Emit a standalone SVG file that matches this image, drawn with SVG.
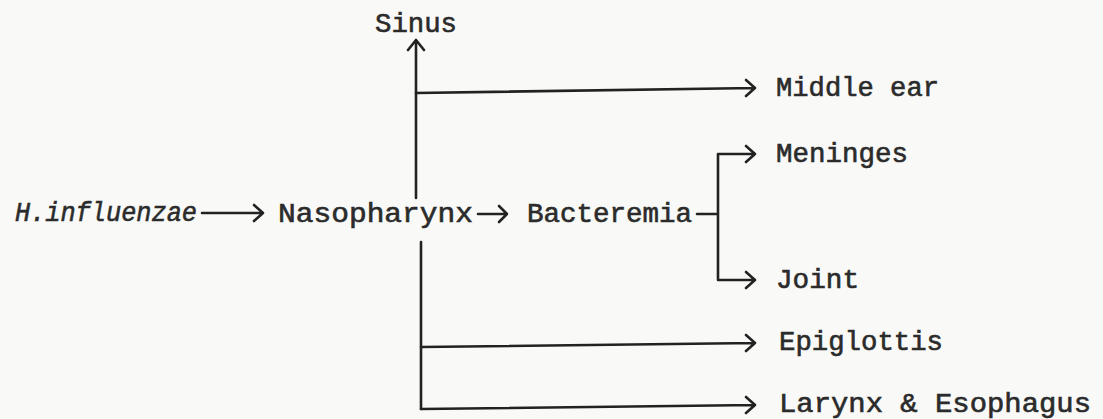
<svg xmlns="http://www.w3.org/2000/svg" width="1103" height="419" viewBox="0 0 1103 419">
<style>
.t{font-family:"Liberation Mono","DejaVu Sans Mono",monospace;font-size:27px;fill:#2b2b2b;stroke:#2b2b2b;stroke-width:0.6px;}
.i{font-style:italic;}
.c{fill:none;stroke:#222;stroke-width:2.6;stroke-linecap:round;stroke-linejoin:round;}
</style>
<rect width="1103" height="419" fill="#f9f9f7"/>
<g id="connectors">
  <path class="c" d="M202 213 H263 M254 205 L263 213 L254 221"/>
  <path class="c" d="M478 214 H507 M499 206 L507 214 L499 222"/>
  <path class="c" d="M416 198 V41 M408 50 L416 40 L424 50"/>
  <path class="c" d="M416 93 L755 88 M746 80 L755 88 L746 96"/>
  <path class="c" d="M697 214 H718 M718 154 V280 M718 154 H755 M746 146 L755 154 L746 162 M718 280 H755 M746 272 L755 280 L746 288"/>
  <path class="c" d="M421 242 V409"/>
  <path class="c" d="M421 347 L755 343 M746 335 L755 343 L746 351"/>
  <path class="c" d="M421 409 L755 405 M746 397 L755 405 L746 413"/>
</g>
<g id="n-hinfluenzae"><text class="t i" x="15" y="221" textLength="182" lengthAdjust="spacingAndGlyphs">H.influenzae</text></g>
<g id="n-nasopharynx"><text class="t" x="278" y="222" textLength="195" lengthAdjust="spacingAndGlyphs">Nasopharynx</text></g>
<g id="n-bacteremia"><text class="t" x="527" y="222" textLength="165" lengthAdjust="spacingAndGlyphs">Bacteremia</text></g>
<g id="n-sinus"><text class="t" x="375" y="32" textLength="82" lengthAdjust="spacingAndGlyphs">Sinus</text></g>
<g id="n-middleear"><text class="t" x="776" y="96" textLength="163" lengthAdjust="spacingAndGlyphs">Middle ear</text></g>
<g id="n-meninges"><text class="t" x="776" y="162" textLength="132" lengthAdjust="spacingAndGlyphs">Meninges</text></g>
<g id="n-joint"><text class="t" x="776" y="288" textLength="83" lengthAdjust="spacingAndGlyphs">Joint</text></g>
<g id="n-epiglottis"><text class="t" x="779" y="350" textLength="164" lengthAdjust="spacingAndGlyphs">Epiglottis</text></g>
<g id="n-larynx"><text class="t" x="779" y="412" textLength="312" lengthAdjust="spacingAndGlyphs">Larynx &amp; Esophagus</text></g>
</svg>
